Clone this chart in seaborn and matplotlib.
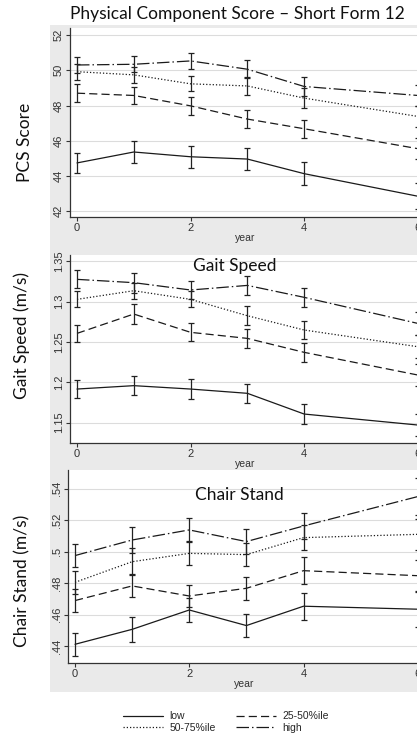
import numpy as np
import pandas as pd
import matplotlib
matplotlib.use("Agg")
import matplotlib.pyplot as plt
import seaborn as sns
from matplotlib.patches import Rectangle

# data (means and half-width of CI)
years = [0, 1, 2, 3, 4, 6]
groups = ["low", "25-50%ile", "50-75%ile", "high"]

pcs_low = [44.74, 45.36, 45.09, 44.96, 44.13, 42.85]
pcs_q2 = [48.70, 48.57, 47.98, 47.23, 46.68, 45.55]
pcs_q3 = [49.92, 49.74, 49.23, 49.11, 48.42, 47.38]
pcs_high = [50.30, 50.34, 50.53, 50.06, 49.08, 48.57]
pcs_ci_low = [0.57, 0.60, 0.62, 0.64, 0.66, 0.75]
pcs_ci_q2 = [0.50, 0.50, 0.50, 0.52, 0.52, 0.60]
pcs_ci_q3 = [0.45, 0.45, 0.43, 0.50, 0.55, 0.60]
pcs_ci_high = [0.45, 0.45, 0.47, 0.50, 0.55, 0.60]

gait_low = [1.1917, 1.1959, 1.1917, 1.1864, 1.1607, 1.1471]
gait_q2 = [1.2607, 1.2847, 1.2620, 1.2545, 1.2372, 1.2091]
gait_q3 = [1.3029, 1.3136, 1.3029, 1.2826, 1.2649, 1.2442]
gait_high = [1.3277, 1.3236, 1.3145, 1.3202, 1.3054, 1.2731]
gait_ci_low = [0.011, 0.012, 0.012, 0.012, 0.012, 0.014]
gait_ci_q2 = [0.011, 0.012, 0.011, 0.012, 0.012, 0.014]
gait_ci_q3 = [0.010, 0.010, 0.010, 0.012, 0.0115, 0.014]
gait_ci_high = [0.011, 0.0125, 0.011, 0.0116, 0.0118, 0.014]

chair_low = [0.4411, 0.4506, 0.4629, 0.4530, 0.4653, 0.4634]
chair_q2 = [0.4689, 0.4782, 0.4718, 0.4767, 0.4879, 0.4847]
chair_q3 = [0.4805, 0.4936, 0.4989, 0.4981, 0.5089, 0.5110]
chair_high = [0.4975, 0.5074, 0.5138, 0.5064, 0.5163, 0.5350]
chair_ci_low = [0.0074, 0.0080, 0.0074, 0.0073, 0.0085, 0.0110]
chair_ci_q2 = [0.0072, 0.0073, 0.0070, 0.0072, 0.0085, 0.0100]
chair_ci_q3 = [0.0075, 0.0085, 0.0077, 0.0075, 0.0080, 0.0098]
chair_ci_high = [0.0075, 0.0080, 0.0074, 0.0078, 0.0080, 0.0120]

pcs_ticks = [42, 44, 46, 48, 50, 52]
pcs_ticklabels = ["42", "44", "46", "48", "50", "52"]
gait_ticks = [1.15, 1.2, 1.25, 1.3, 1.35]
gait_ticklabels = ["1.15", "1.2", "1.25", "1.3", "1.35"]
chair_ticks = [0.44, 0.46, 0.48, 0.50, 0.52, 0.54]
chair_ticklabels = [".44", ".46", ".48", ".5", ".52", ".54"]
x_ticks = [0, 2, 4, 6]


def long_df(vals, cis):
    rows = []
    for g, v, c in zip(groups, vals, cis):
        for yr, m, e in zip(years, v, c):
            rows.append({"year": yr, "value": m, "ci": e, "group": g})
    return pd.DataFrame(rows)


df_pcs = long_df([pcs_low, pcs_q2, pcs_q3, pcs_high],
                 [pcs_ci_low, pcs_ci_q2, pcs_ci_q3, pcs_ci_high])
df_gait = long_df([gait_low, gait_q2, gait_q3, gait_high],
                  [gait_ci_low, gait_ci_q2, gait_ci_q3, gait_ci_high])
df_chair = long_df([chair_low, chair_q2, chair_q3, chair_high],
                   [chair_ci_low, chair_ci_q2, chair_ci_q3, chair_ci_high])

sns.set_style("white")
plt.rcParams['font.family'] = ['Liberation Sans', 'DejaVu Sans']

W, H = 417, 742
fig = plt.figure(figsize=(W / 100, H / 100), dpi=100)
fig.patch.set_facecolor("white")

# grey graph region like Stata
fig.add_artist(Rectangle((50 / W, 1 - 692 / H), (417 - 50) / W, (692 - 25) / H,
                         transform=fig.transFigure, facecolor="#eaeaea",
                         edgecolor="none", zorder=-1))


def px_axes(left, top, right, bottom):
    return fig.add_axes([left / W, 1 - bottom / H, (right - left) / W, (bottom - top) / H])


line_col = "#1a1a1a"
palette = {g: line_col for g in groups}
dashes = {"low": "", "25-50%ile": (6.5, 3.3), "50-75%ile": (1, 1.6),
          "high": (10, 2.4, 1.2, 2.4)}
title_font = ['Lato', 'DejaVu Sans']


def draw_panel(ax, df, ylim, ticks, ticklabels):
    ax.set_facecolor("white")
    sns.lineplot(data=df, x="year", y="value", hue="group", style="group",
                 palette=palette, dashes=dashes, hue_order=groups,
                 style_order=groups, linewidth=0.9, ax=ax, legend=True)
    for g in groups:
        sub = df[df["group"] == g]
        ax.errorbar(sub["year"], sub["value"], yerr=sub["ci"], fmt="none",
                    ecolor="#222222", elinewidth=0.9, capsize=2.5, capthick=0.9)
    ax.set_xlim(-0.123, 6.057)
    ax.set_ylim(*ylim)
    ax.set_xticks(x_ticks)
    ax.set_xticklabels([str(t) for t in x_ticks])
    ax.set_yticks(ticks)
    ax.set_yticklabels(ticklabels, rotation=90, va="center")
    ax.yaxis.grid(True, color="#dcdcdc", linewidth=0.8)
    ax.set_axisbelow(True)
    for s in ["top", "right"]:
        ax.spines[s].set_visible(False)
    for s in ["left", "bottom"]:
        ax.spines[s].set_color("#333333")
        ax.spines[s].set_linewidth(0.9)
    ax.tick_params(axis="both", length=3, width=0.8, color="#333333",
                   labelsize=8, pad=1.5, labelcolor="#333333", left=True, bottom=True)
    ax.set_xlabel("year", fontsize=7.5, color="#333333", labelpad=0)
    ax.set_ylabel("")
    h, l = ax.get_legend_handles_labels()
    ax.get_legend().remove()
    return h, l


ax1 = px_axes(70, 28, 421, 217)
draw_panel(ax1, df_pcs, (41.67, 52.40), pcs_ticks, pcs_ticklabels)
ax2 = px_axes(70, 255, 421, 443)
draw_panel(ax2, df_gait, (1.1248, 1.3579), gait_ticks, gait_ticklabels)
ax3 = px_axes(68, 470, 421, 663)
handles, labels = draw_panel(ax3, df_chair, (0.4292, 0.5519), chair_ticks,
                             chair_ticklabels)

# titles
fig.text(237 / W, 1 - 14 / H, "Physical Component Score \u2013 Short Form 12",
         ha="center", va="center", fontsize=12.5, family=title_font, color="#111111")
fig.text(235 / W, 1 - 266 / H, "Gait Speed", ha="center", va="center",
         fontsize=12.5, family=title_font, color="#111111")
fig.text(239 / W, 1 - 495 / H, "Chair Stand", ha="center", va="center",
         fontsize=12.5, family=title_font, color="#111111")

# y labels
fig.text(25 / W, 1 - 142 / H, "PCS Score", rotation=90, ha="center", va="center",
         fontsize=12.5, family=title_font, color="#111111")
fig.text(22 / W, 1 - 335 / H, "Gait Speed (m/s)", rotation=90, ha="center", va="center",
         fontsize=12.5, family=title_font, color="#111111")
fig.text(22 / W, 1 - 581 / H, "Chair Stand (m/s)", rotation=90, ha="center", va="center",
         fontsize=12.5, family=title_font, color="#111111")

# legend: low / 50-75 in first column, 25-50 / high in second
lab_idx = {lab: i for i, lab in enumerate(labels)}
order = ["low", "50-75%ile", "25-50%ile", "high"]
fig.legend([handles[lab_idx[o]] for o in order], order, loc="center",
           bbox_to_anchor=(226 / W, 1 - 722 / H), ncol=2, frameon=False,
           fontsize=7.5, handlelength=3.8, handletextpad=0.6, columnspacing=2.0,
           labelspacing=0.15)

fig.savefig("out.png", dpi=100)
